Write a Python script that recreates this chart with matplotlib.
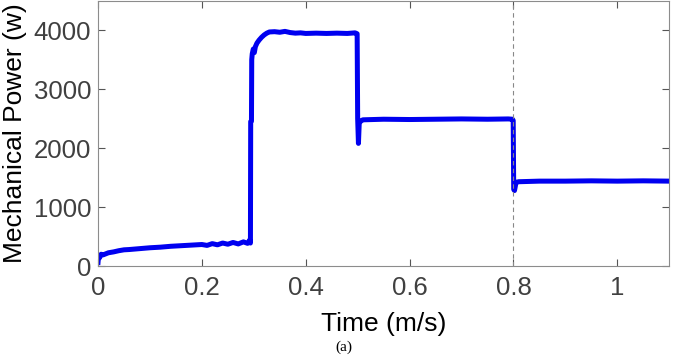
import matplotlib
matplotlib.use("Agg")
import matplotlib.pyplot as plt

time = [0.000, 0.001, 0.003, 0.006, 0.010, 0.020, 0.030, 0.040, 0.050, 0.060,
        0.080, 0.100, 0.120, 0.140, 0.160, 0.180, 0.200, 0.210, 0.220, 0.230,
        0.240, 0.250, 0.260, 0.270, 0.280, 0.288, 0.292, 0.2935, 0.294, 0.2955,
        0.296, 0.297, 0.299, 0.301, 0.303, 0.306, 0.310, 0.315, 0.320, 0.325,
        0.330, 0.340, 0.350, 0.360, 0.370, 0.380, 0.390, 0.400, 0.420, 0.440,
        0.460, 0.480, 0.495, 0.499, 0.500, 0.5015, 0.503, 0.506, 0.510, 0.550,
        0.600, 0.650, 0.700, 0.750, 0.790, 0.798, 0.7995, 0.8005, 0.802, 0.805,
        0.810, 0.850, 0.900, 0.950, 1.000, 1.050, 1.100]
power = [60, 170, 140, 200, 190, 225, 240, 260, 275, 280,
         295, 310, 320, 335, 345, 355, 365, 350, 380, 360,
         390, 370, 400, 375, 410, 385, 440, 390, 2450, 2460,
         3500, 3600, 3680, 3620, 3720, 3780, 3830, 3880, 3920, 3950,
         3970, 3975, 3965, 3980, 3960, 3950, 3955, 3945, 3950, 3945,
         3950, 3945, 3955, 3940, 2500, 2080, 2420, 2460, 2480, 2490,
         2485, 2490, 2495, 2490, 2495, 2490, 2470, 1300, 1280, 1420,
         1430, 1440, 1440, 1445, 1440, 1445, 1440]

x_ticks = [0, 0.2, 0.4, 0.6, 0.8, 1.0]
x_tick_labels = ["0", "0.2", "0.4", "0.6", "0.8", "1"]
y_ticks = [0, 1000, 2000, 3000, 4000]
marker_time = 0.8

fig = plt.figure(figsize=(6.76, 3.6), dpi=100)
ax = fig.add_axes([0.145, 0.261, 0.845, 0.737])

ax.plot(time, power, color="#0000f0", lw=3.6, solid_joinstyle="round")
ax.axvline(marker_time, color="#888888", lw=0.8, ls=(0, (4, 3)))

ax.set_xlim(0, 1.1)
ax.set_ylim(0, 4500)
ax.set_xticks(x_ticks)
ax.set_xticklabels(x_tick_labels)
ax.set_yticks(y_ticks)

for s in ax.spines.values():
    s.set_color("#8c8c8c")
    s.set_linewidth(0.8)

ax.tick_params(direction="in", length=5, width=0.8, color="#555555",
               top=True, right=True, labelsize=18.5, labelcolor="#404040", pad=5)
ax.tick_params(axis="x", pad=7)
for lab in ax.get_xticklabels() + ax.get_yticklabels():
    lab.set_family("Liberation Sans")

ax.set_xlabel("Time (m/s)", fontsize=19, family="Liberation Sans", labelpad=9)
ax.set_ylabel("Mechanical Power (w)", fontsize=19, family="Liberation Sans", labelpad=5)

fig.text(0.508, 0.036, "(a)", fontsize=11, family="Liberation Serif", ha="center", va="center")

fig.savefig("out.png", dpi=100)
